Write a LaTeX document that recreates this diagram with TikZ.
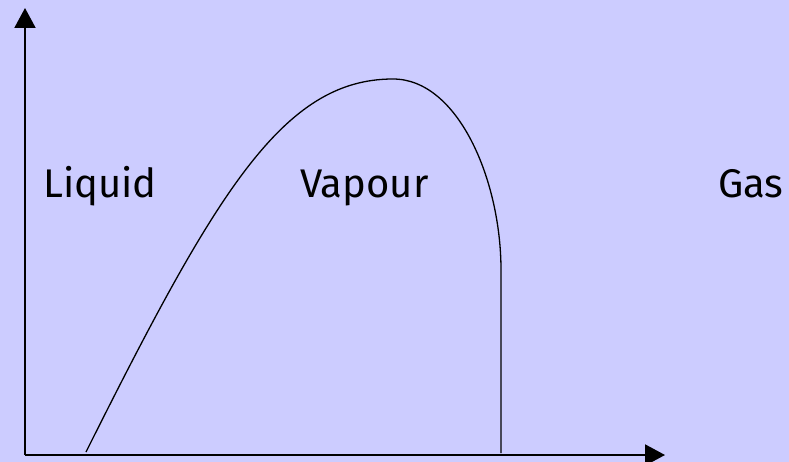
\documentclass[tikz,border=0pt]{standalone}
\usepackage{fontspec}
\setmainfont{Fira Sans}
\usetikzlibrary{arrows.meta}
\definecolor{bg}{HTML}{CCCCFF}
\begin{document}
\begin{tikzpicture}[x=1pt,y=-1pt,
  axis/.style={line width=2pt,-{Triangle[length=20pt,width=21pt]}},
  lbl/.style={font=\fontsize{40}{46}\selectfont,anchor=base west,inner sep=0pt}]
\fill[bg] (0,0) rectangle (789,462);
\useasboundingbox (0,0) rectangle (789,462);
\coordinate (o) at (25,455);
\coordinate (ytop) at (25,8);
\coordinate (xend) at (665,455);
\draw[axis] (o) -- (ytop);
\draw[axis] (o) -- (xend);
\coordinate (c0) at (86,452);
\coordinate (peak) at (393,79);
\coordinate (c2) at (501,270);
\coordinate (c3) at (501,453);
\draw[line width=1.3pt] (c0) .. controls (216,192) and (283,79) .. (peak)
  .. controls (458,79) and (501,180) .. (c2) -- (c3);
\node[lbl] (liq) at (43,198) {Liquid};
\node[lbl] (vap) at (300,198) {Vapour};
\node[lbl] (gas) at (718,198) {Gas};
\end{tikzpicture}
\end{document}
